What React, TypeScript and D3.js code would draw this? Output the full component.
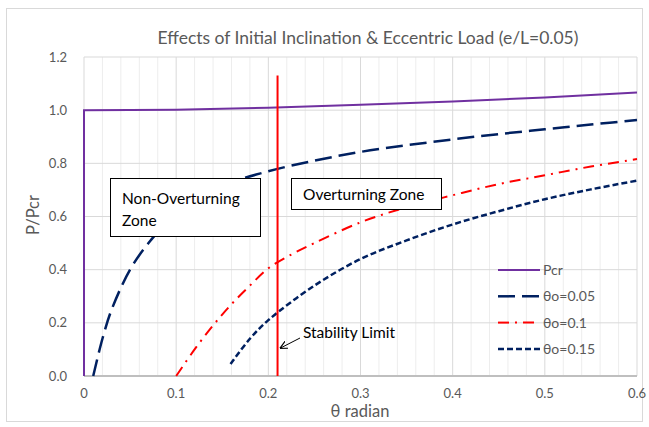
import React from "react";
import * as d3 from "d3";

// values
const pcrTheta = [0, 0, 0.1, 0.2, 0.3, 0.4, 0.5, 0.6];
const pcrValue = [0, 1.0, 1.002, 1.009, 1.02, 1.033, 1.048, 1.066];

const t05Theta = [0.01, 0.02, 0.03, 0.05, 0.07, 0.1, 0.15, 0.2, 0.25, 0.3, 0.35, 0.4, 0.45, 0.5, 0.55, 0.6];
const t05Value = [0, 0.14, 0.25, 0.4, 0.5, 0.61, 0.715, 0.77, 0.81, 0.843, 0.868, 0.89, 0.91, 0.928, 0.946, 0.963];

const t10Theta = [0.1, 0.12, 0.14, 0.16, 0.18, 0.2, 0.225, 0.25, 0.3, 0.35, 0.4, 0.45, 0.5, 0.55, 0.6];
const t10Value = [0, 0.1, 0.19, 0.27, 0.34, 0.405, 0.457, 0.5, 0.578, 0.635, 0.68, 0.722, 0.755, 0.788, 0.816];

const t15Theta = [0.159, 0.18, 0.2, 0.25, 0.3, 0.35, 0.4, 0.45, 0.5, 0.55, 0.6];
const t15Value = [0.045, 0.14, 0.21, 0.34, 0.44, 0.51, 0.57, 0.62, 0.665, 0.702, 0.735];

const xTicks = [0, 0.1, 0.2, 0.3, 0.4, 0.5, 0.6];
const yTicks = [0, 0.2, 0.4, 0.6, 0.8, 1.0, 1.2];
const stabilityLimit = 0.21;

const seriesNames = ["Pcr", "θo=0.05", "θo=0.1", "θo=0.15"];

const margin = { top: 57, left: 84, right: 12, bottom: 51 };
const W = 649;
const H = 427;
const font = "Lato, 'Open Sans', sans-serif";

export default function App() {
  const x = d3.scaleLinear().domain([0, 0.6]).range([margin.left, W - margin.right]);
  const y = d3.scaleLinear().domain([0, 1.2]).range([H - margin.bottom, margin.top]);

  const zip = (a: number[], b: number[]) => a.map((v, i) => [v, b[i]] as [number, number]);
  const smooth = d3.line<[number, number]>().x(d => x(d[0])).y(d => y(d[1])).curve(d3.curveCatmullRom.alpha(0.5));
  const straight = d3.line<[number, number]>().x(d => x(d[0])).y(d => y(d[1]));

  const series = [
    { path: straight(zip(pcrTheta, pcrValue)), color: "#7030A0", dash: "", width: 2 },
    { path: smooth(zip(t05Theta, t05Value)), color: "#002060", dash: "17,7", width: 2.5 },
    { path: smooth(zip(t10Theta, t10Value)), color: "#FF0000", dash: "11,6,2,6", width: 2 },
    { path: smooth(zip(t15Theta, t15Value)), color: "#002060", dash: "6,3", width: 2.5 },
  ];

  const minor = d3.range(0, 31).map(i => i * 0.02);

  return (
    <svg width={W} height={H} style={{ position: "absolute", left: 0, top: 0, background: "#fff" }}>
      <rect x={6.5} y={8.5} width={636} height={413} fill="#fff" stroke="#D9D9D9" />
      <text x={368} y={44} textAnchor="middle" fontFamily={font} fontSize={17.5} fill="#595959">
        Effects of Initial Inclination &amp; Eccentric Load (e/L=0.05)
      </text>

      {/* grid */}
      {minor.map((v, i) => (
        <line key={"m" + i} x1={x(v)} x2={x(v)} y1={y(0)} y2={y(1.2)} stroke={i % 5 === 0 ? "#D9D9D9" : "#EDEDED"} strokeWidth={1} />
      ))}
      {yTicks.map(v => (
        <line key={"h" + v} x1={x(0)} x2={x(0.6)} y1={y(v)} y2={y(v)} stroke="#D9D9D9" />
      ))}
      <line x1={x(0)} x2={x(0.6)} y1={y(0)} y2={y(0)} stroke="#BFBFBF" strokeWidth={2} />

      {/* tick labels */}
      {yTicks.map(v => (
        <text key={"yl" + v} x={67} y={y(v) + 4.5} textAnchor="end" fontFamily={font} fontSize={13} fill="#595959">
          {v.toFixed(1)}
        </text>
      ))}
      {xTicks.map(v => (
        <text key={"xl" + v} x={x(v)} y={398} textAnchor="middle" fontFamily={font} fontSize={13} fill="#595959">
          {v === 0 ? "0" : String(v)}
        </text>
      ))}
      <text x={360} y={417} textAnchor="middle" fontFamily={font} fontSize={16.5} fill="#595959">θ radian</text>
      <text transform="translate(39,215) rotate(-90)" textAnchor="middle" fontFamily={font} fontSize={16.5} fill="#595959">P/Pcr</text>

      {/* series */}
      {series.map((s, i) => (
        <path key={"s" + i} d={s.path || ""} fill="none" stroke={s.color} strokeWidth={s.width} strokeDasharray={s.dash} />
      ))}

      {/* stability limit */}
      <line x1={x(stabilityLimit)} x2={x(stabilityLimit)} y1={y(0)} y2={y(1.13)} stroke="#FF0000" strokeWidth={2} />
      <defs>
        <marker id="arr" viewBox="0 0 10 10" refX={9} refY={5} markerWidth={8} markerHeight={8} orient="auto">
          <path d="M0,0 L10,5 L0,10" fill="none" stroke="#000" strokeWidth={1.5} />
        </marker>
      </defs>
      <line x1={300} y1={338} x2={x(stabilityLimit) + 3} y2={348} stroke="#000" strokeWidth={1} markerEnd="url(#arr)" />
      <text x={303} y={338} fontFamily={font} fontSize={15.5} fill="#000">Stability Limit</text>

      {/* zone boxes */}
      <rect x={110.5} y={178.5} width={150} height={58} fill="#fff" stroke="#000" />
      <text x={122} y={204} fontFamily={font} fontSize={15.5} fill="#000">Non-Overturning</text>
      <text x={122} y={226} fontFamily={font} fontSize={15.5} fill="#000">Zone</text>
      <rect x={291.5} y={178.5} width={150} height={31} fill="#fff" stroke="#000" />
      <text x={303} y={200} fontFamily={font} fontSize={15.5} fill="#000">Overturning Zone</text>

      {/* legend */}
      {series.map((s, i) => {
        const ly = 270 + i * 26.3;
        return (
          <g key={"lg" + i}>
            <line x1={498} x2={540} y1={ly} y2={ly} stroke={s.color} strokeWidth={s.width} strokeDasharray={s.dash} />
            <text x={543} y={ly + 5} fontFamily={font} fontSize={14} fill="#595959">{seriesNames[i]}</text>
          </g>
        );
      })}
    </svg>
  );
}
